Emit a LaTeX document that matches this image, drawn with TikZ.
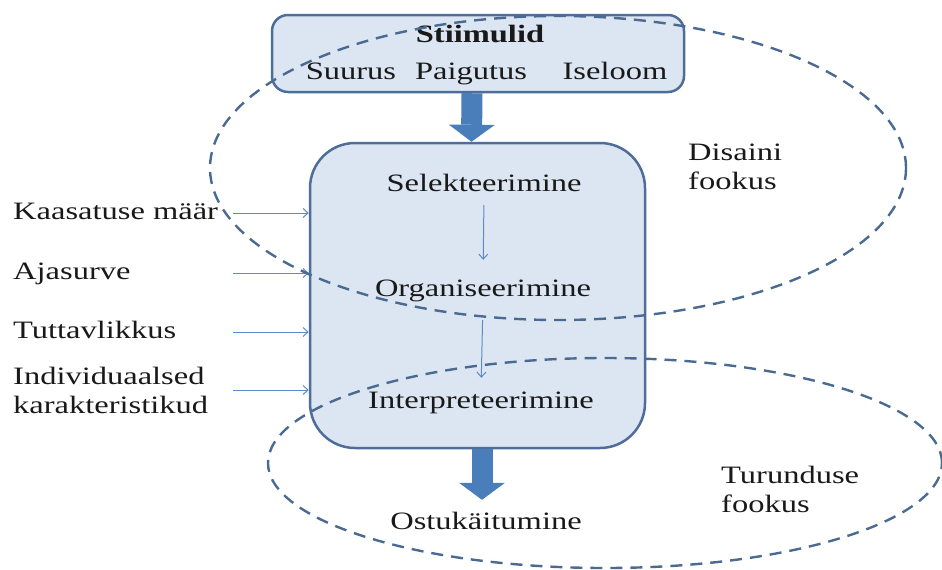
\documentclass[tikz,border=0pt]{standalone}
\usepackage{fontspec}
\setmainfont{Liberation Serif}[FakeStretch=1.3]
\usetikzlibrary{arrows.meta, shapes.geometric, scopes}
\definecolor{bxline}{HTML}{4F6D99}
\definecolor{bxfill}{HTML}{DCE6F2}
\definecolor{fat}{HTML}{4A7EBB}
\definecolor{thin}{HTML}{5B8BC9}
\definecolor{foc}{HTML}{4B6A92}
\tikzset{
  >= {Straight Barb[length=5pt,width=9pt]},
  bx/.style={rectangle, draw=bxline, fill=bxfill, line width=2.5pt},
  tx/.style={inner sep=0pt, text height=17pt, text depth=5pt},
  ml/.style={inner sep=0pt, align=left, anchor=west},
  fa/.style={color=fat, line width=21pt, -{Triangle[width=46pt, length=17pt, line width=0pt]}},
  sa/.style={->, color=thin, line width=1pt},
  fo/.style={ellipse, draw=foc, line width=2.4pt, dash pattern=on 12pt off 8pt}
}

\begin{document}
\begin{tikzpicture}[x=1pt, y=-1pt, font=\fontsize{25}{29}\selectfont, text=black!90]
  \useasboundingbox (0,0) rectangle (942,570);
  \node[bx, rounded corners=16pt, minimum width=412pt, minimum height=77pt] (stim) at (478,53.5) {};
  \node[bx, rounded corners=45pt, minimum width=335pt, minimum height=305pt] (proc) at (477.5,295.5) {};
  \node[tx] (stimt) at (480,36) {\bfseries Stiimulid};
  \node[tx] (suu) at (351,73) {Suurus};
  \node[tx] (pai) at (471,73) {Paigutus};
  \node[tx] (ise) at (615,73) {Iseloom};
  \node[tx] (sel) at (484,185) {Selekteerimine};
  \node[tx] (org) at (483,290) {Organiseerimine};
  \node[tx] (int) at (481,402) {Interpreteerimine};
  \node[tx] (ost) at (486,523) {Ostukäitumine};
  \node[tx, anchor=west] (kaa) at (13,213) {Kaasatuse määr};
  \node[tx, anchor=west] (aja) at (13,273) {Ajasurve};
  \node[tx, anchor=west] (tut) at (13,332) {Tuttavlikkus};
  \node[ml] (ind) at (13,390) {Individuaalsed\\karakteristikud};
  \node[ml] (dis) at (688,167) {Disaini\\fookus};
  \node[ml] (tur) at (721,489) {Turunduse\\fookus};
  \coordinate (in) at (233,0);

  {[fa]
    \draw ([xshift=-6pt]stim.south) -- ([xshift=-6pt]proc.north);
    \draw[shorten >=12pt] ([xshift=4.5pt]proc.south) -- ([xshift=4.5pt]proc.south |- ost.north);
  }
  {[sa]
    \draw[shorten <=9pt, shorten >=19pt] (sel.south) -- (org.north);
    \draw[shorten <=19pt, shorten >=13pt] (org.south) -- (int.north);
    \draw (kaa -| in) -- (kaa -| proc.west);
    \draw (aja -| in) -- (aja -| proc.west);
    \draw (tut -| in) -- (tut -| proc.west);
    \draw (ind -| in) -- (ind -| proc.west);
  }

  \node[fo, minimum width=696pt, minimum height=304pt] (dfoc) at (558,168) {};
  \node[fo, minimum width=674pt, minimum height=210pt] (tfoc) at (605,463) {};
\end{tikzpicture}
\end{document}
